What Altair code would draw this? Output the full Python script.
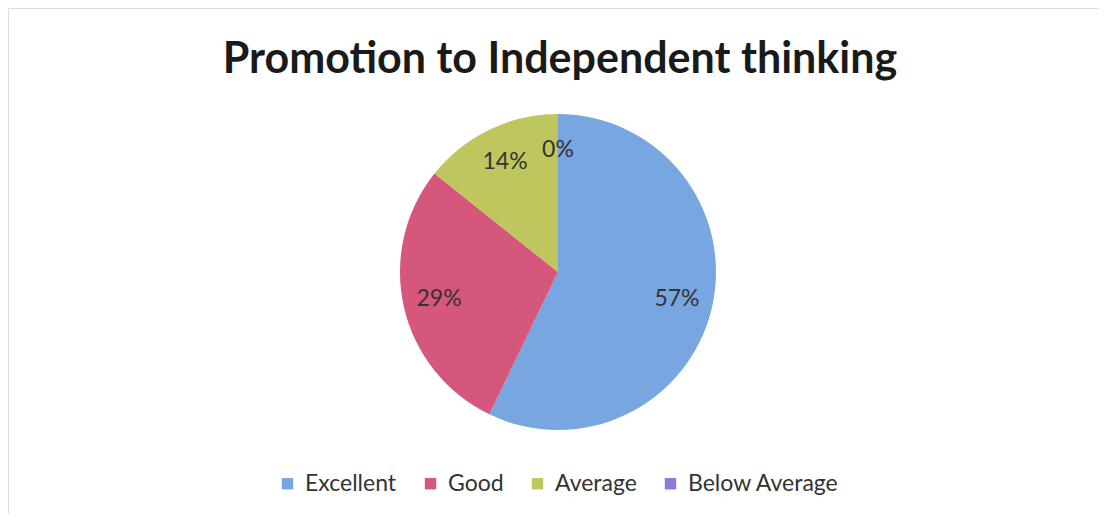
import altair as alt
import pandas as pd

title_text = ["Promotion to Independent thinking"]
categories = ["Excellent", "Good", "Average", "Below Average"]
counts = [4, 2, 1, 0]
labels = ["57%", "29%", "14%", "0%"]
colors = ["#78a6e0", "#d5577c", "#c0c65e", "#8e7ad6"]

df = pd.DataFrame({"category": categories, "count": counts, "label": labels,
                   "ord": list(range(len(categories)))})
tdf = pd.DataFrame({"t": title_text})

CX, CY = 550, 264

base = alt.Chart(df).encode(
    theta=alt.Theta("count:Q", stack=True),
    order=alt.Order("ord:Q"),
)

pie = base.mark_arc(outerRadius=158, stroke=None).encode(
    x=alt.value(CX), y=alt.value(CY),
    color=alt.Color("category:N", sort=categories,
                    scale=alt.Scale(domain=categories, range=colors),
                    legend=alt.Legend(title=None, orient="none", legendX=268, legendY=464,
                                      direction="horizontal", symbolType="square",
                                      symbolSize=130, labelFontSize=23, labelFont="Lato",
                                      labelColor="#333333", columnPadding=22,
                                      labelOffset=6, symbolStrokeWidth=0)),
)

txt = base.mark_text(radius=122, fontSize=23, font="Lato", color="#333333").encode(
    x=alt.value(CX), y=alt.value(CY),
    text="label:N",
)

title = alt.Chart(tdf).mark_text(fontSize=43, font="Lato", fontWeight="bold",
                                 color="#1a1a1a", baseline="alphabetic", align="center").encode(
    x=alt.value(552), y=alt.value(65), text="t:N",
)

chart = (pie + txt + title).properties(
    width=1091, height=506,
    autosize=alt.AutoSizeParams(type="none"),
    padding=0,
).configure_view(stroke="#bdbdbd", strokeWidth=1.5).configure(background="white")

chart.save("out.html", embed_options={"renderer": "svg", "actions": False})
